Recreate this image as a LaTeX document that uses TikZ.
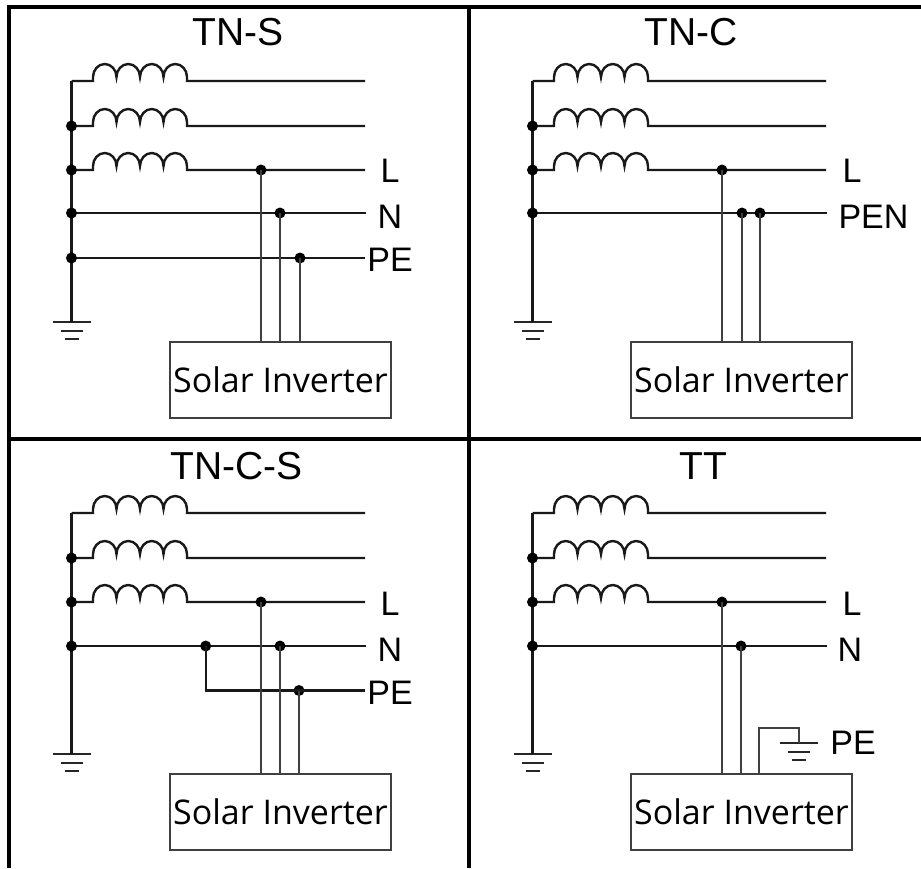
\documentclass[tikz,border=0pt]{standalone}
\usepackage{fontspec}
\setmainfont{Liberation Sans}
\newfontfamily\invfont{Open Sans}
\newcommand\coilline[3]{%
  \draw[wire] (#1) -- (93,#2) -- ++(0,-4)
    arc[start angle=180,end angle=360,x radius=11.75,y radius=13]
    arc[start angle=180,end angle=360,x radius=11.75,y radius=13]
    arc[start angle=180,end angle=360,x radius=11.75,y radius=13]
    arc[start angle=180,end angle=360,x radius=11.75,y radius=13]
    -- ++(0,4) -- (#3);}
\newcommand\gndsym[3]{% name, x, y of top bar
  \coordinate (#1) at (#2,#3);
  \draw[gndbar] ([xshift=-19pt]#1) -- ([xshift=19pt]#1);
  \draw[gndbar] ([xshift=-11pt,yshift=-8.5pt]#1) -- ([xshift=11pt,yshift=-8.5pt]#1);
  \draw[gndbar,line width=2.6pt] ([xshift=-7pt,yshift=-17pt]#1) -- ([xshift=7pt,yshift=-17pt]#1);}
\newcommand\sourcepart{%
  \coordinate (b1) at (71.5,81);
  \coordinate (b2) at (71.5,126);
  \coordinate (b3) at (71.5,170);
  \coordinate (e1) at (365,81);
  \coordinate (e2) at (365,126);
  \coordinate (e3) at (365,170);
  \gndsym{g}{71.5}{322}
  \draw[wire] (b1) -- (g);
  \coilline{b1}{81}{e1}
  \coilline{b2}{126}{e2}
  \coilline{b3}{170}{e3}
  \node[dot] (d2) at (b2) {};
  \node[dot] (d3) at (b3) {};
  \node[invbox] (inv) at (280.5,380) {Solar Inverter};}
\begin{document}
\begin{tikzpicture}[x=1pt,y=-1pt,
  wire/.style={line width=2.4pt, black!90},
  thickwire/.style={line width=2.9pt, black!90},
  drop/.style={line width=1.7pt, black!75},
  frameline/.style={line width=4pt, black},
  gndbar/.style={line width=2pt, black!85},
  dot/.style={circle, fill=black, inner sep=0pt, minimum size=11pt},
  title/.style={font=\fontsize{39}{39}\selectfont, inner sep=0pt},
  lbl/.style={font=\fontsize{34}{34}\selectfont, inner sep=0pt},
  invbox/.style={draw=black!75, line width=1.8pt, minimum width=220.5pt,
    minimum height=76pt, inner sep=0pt, font=\invfont\fontsize{34}{34}\selectfont},
]
\useasboundingbox (0,0) rectangle (921,868);
\fill[white] (0,0) rectangle (921,868);

% frame
\draw[frameline] (9,868) -- (9,7) -- (921,7);
\draw[frameline] (469,7) -- (469,868);
\draw[frameline] (9,439) -- (921,439);

% ---------------- TN-S ----------------
\begin{scope}[name prefix=a-]
  \sourcepart
  \node[title] (title) at (238,32.5) {TN-S};
  \coordinate (bN) at (71.5,213); \coordinate (eN) at (366,213);
  \coordinate (bP) at (71.5,258); \coordinate (eP) at (365,258);
  \draw[thickwire] (bN) -- (eN);
  \draw[thickwire] (bP) -- (eP);
  \node[dot] (dN) at (bN) {};
  \node[dot] (dP) at (bP) {};
  \node[dot] (jL) at (261,170) {};
  \node[dot] (jN) at (280,213) {};
  \node[dot] (jP) at (300,258) {};
  \draw[drop] (jL.center) -- (jL.center |- inv.north);
  \draw[drop] (jN.center) -- (jN.center |- inv.north);
  \draw[drop] (jP.center) -- (jP.center |- inv.north);
  \node[lbl] (tL) at (390,170.5) {L};
  \node[lbl] (tN) at (390,217) {N};
  \node[lbl] (tP) at (390,259.5) {PE};
\end{scope}

% ---------------- TN-C ----------------
\begin{scope}[shift={(461,0)}, name prefix=b-]
  \sourcepart
  \node[title] (title) at (230,32.5) {TN-C};
  \coordinate (bN) at (71.5,213); \coordinate (eN) at (366,213);
  \draw[thickwire] (bN) -- (eN);
  \node[dot] (dN) at (bN) {};
  \node[dot] (jL) at (261,170) {};
  \node[dot] (jN) at (281,213) {};
  \node[dot] (jP) at (299,213) {};
  \draw[drop] (jL.center) -- (jL.center |- inv.north);
  \draw[drop] (jN.center) -- (jN.center |- inv.north);
  \draw[drop] (jP.center) -- (jP.center |- inv.north);
  \node[lbl] (tL) at (391,170.5) {L};
  \node[lbl] (tN) at (412.5,217) {PEN};
\end{scope}

% ---------------- TN-C-S ----------------
\begin{scope}[shift={(0,432)}, name prefix=c-]
  \sourcepart
  \node[title] (title) at (236.5,34) {TN-C-S};
  \coordinate (bN) at (71.5,214); \coordinate (eN) at (366,214);
  \coordinate (eP) at (365,258.5);
  \draw[thickwire] (bN) -- (eN);
  \node[dot] (dN) at (bN) {};
  \node[dot] (jS) at (205.7,214) {};
  \node[dot] (jL) at (261,170) {};
  \node[dot] (jN) at (280,214) {};
  \node[dot] (jP) at (299,258.5) {};
  \draw[wire] (jS.center) |- (eP);
  \draw[drop] (jL.center) -- (jL.center |- inv.north);
  \draw[drop] (jN.center) -- (jN.center |- inv.north);
  \draw[drop] (jP.center) -- (jP.center |- inv.north);
  \node[lbl] (tL) at (390,171.5) {L};
  \node[lbl] (tN) at (390,217.5) {N};
  \node[lbl] (tP) at (390,260.5) {PE};
\end{scope}

% ---------------- TT ----------------
\begin{scope}[shift={(461,432)}, name prefix=d-]
  \sourcepart
  \node[title] (title) at (242,34.5) {TT};
  \coordinate (bN) at (71.5,214); \coordinate (eN) at (366,214);
  \draw[thickwire] (bN) -- (eN);
  \node[dot] (dN) at (bN) {};
  \node[dot] (jL) at (261,170) {};
  \node[dot] (jN) at (280,214) {};
  \draw[drop] (jL.center) -- (jL.center |- inv.north);
  \draw[drop] (jN.center) -- (jN.center |- inv.north);
  \gndsym{pg}{338}{311}
  \coordinate (pb) at (298,0);
  \draw[drop] (pb |- inv.north) -- (298,296) -- (338,296) -- (pg);
  \node[lbl] (tL) at (391,171.5) {L};
  \node[lbl] (tN) at (389,217.5) {N};
  \node[lbl] (tP) at (392,311) {PE};
\end{scope}
\end{tikzpicture}
\end{document}
